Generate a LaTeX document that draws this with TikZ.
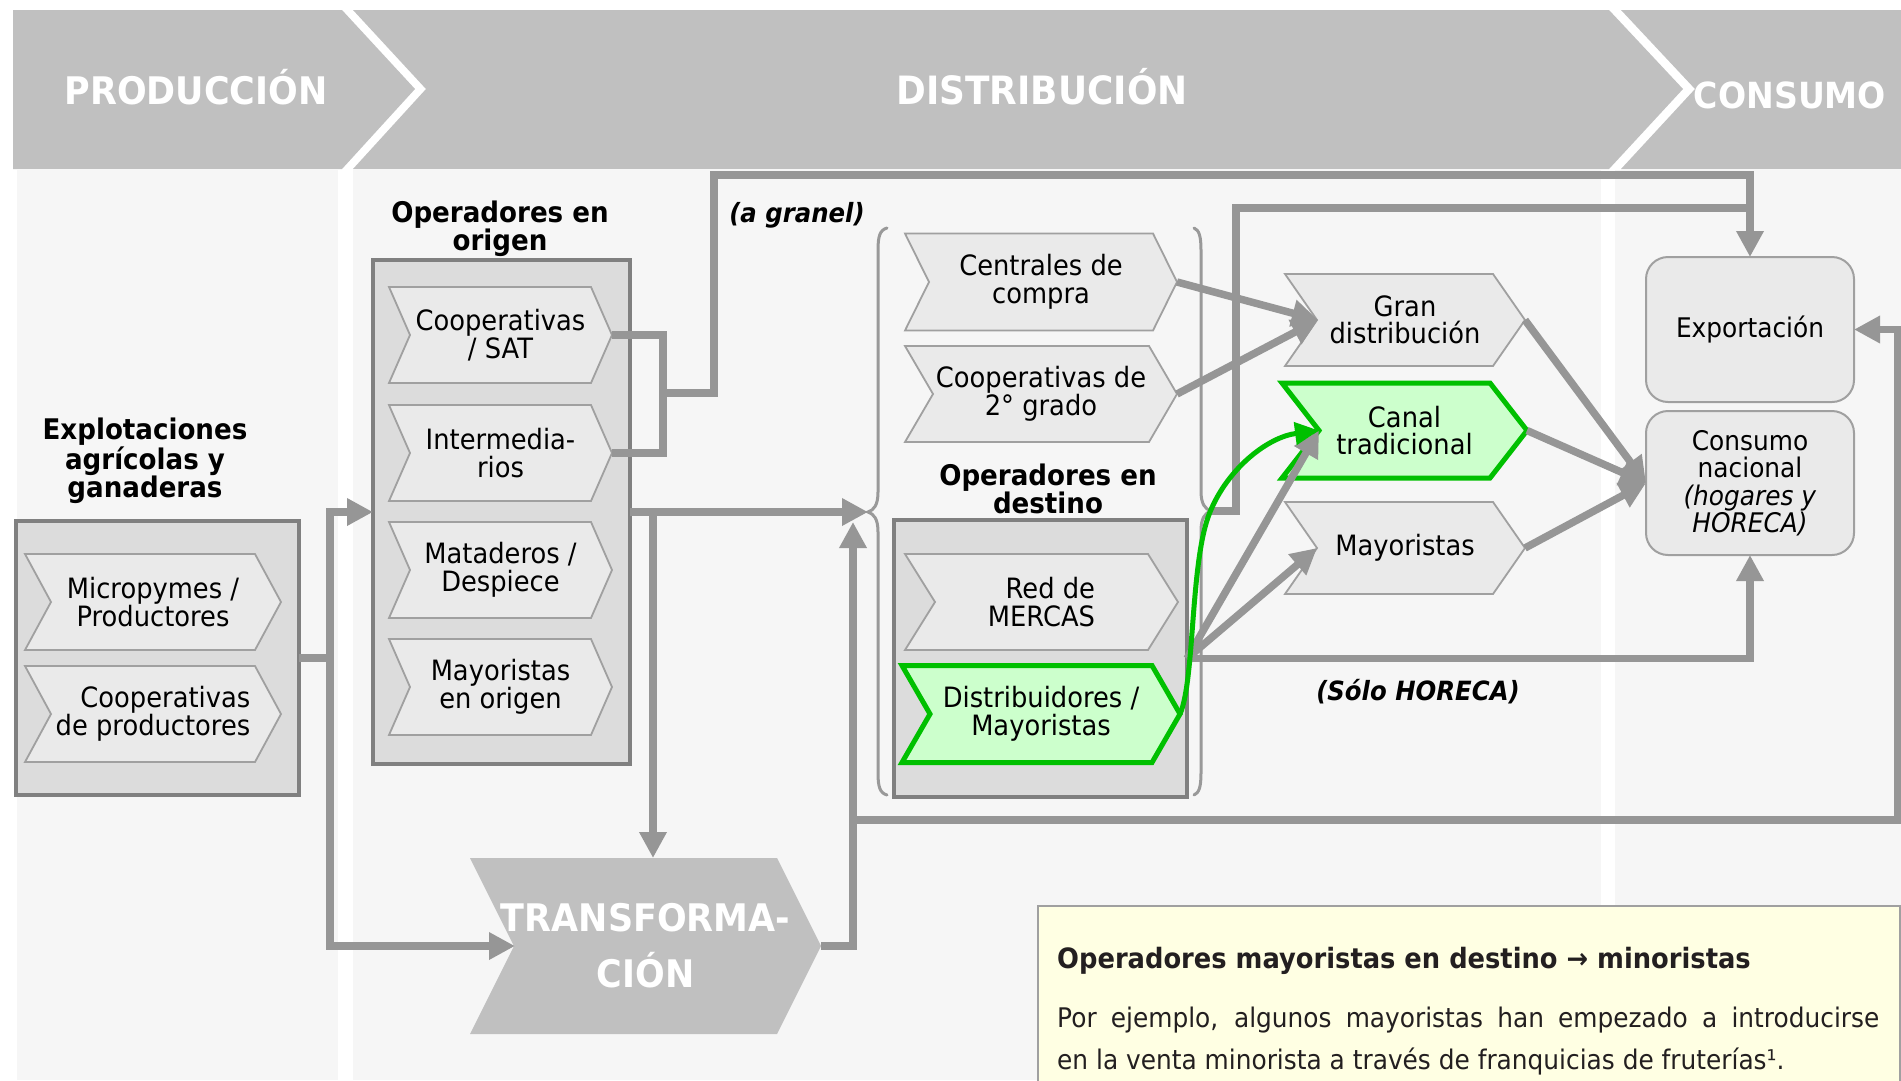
\documentclass[tikz,border=0pt]{standalone}
\usepackage{fontspec}
\setmainfont{DejaVu Sans}[FakeStretch=0.92]
\usetikzlibrary{arrows.meta}
\pgfdeclarelayer{back}
\pgfdeclarelayer{boxes}
\pgfdeclarelayer{chev}
\pgfsetlayers{back,boxes,chev,main}
\definecolor{cHdr}{HTML}{C0C0C0}
\definecolor{cCol}{HTML}{F6F6F6}
\definecolor{cBox}{HTML}{DCDCDC}
\definecolor{cBoxLine}{HTML}{808080}
\definecolor{cChev}{HTML}{EAEAEA}
\definecolor{cChevLine}{HTML}{A0A0A0}
\definecolor{cConn}{HTML}{969696}
\definecolor{cBrace}{HTML}{999999}
\definecolor{cGrn}{HTML}{00C000}
\definecolor{cGrnFill}{HTML}{CCFFCC}
\definecolor{cNote}{HTML}{FFFFE3}
\definecolor{cNoteText}{HTML}{231F20}
\tikzset{
 chevtext/.style={inner sep=0pt, outer sep=0pt, align=center, font=\fontsize{28}{27.5}\selectfont, text=black},
 chevgray/.style={fill=cChev, draw=cChevLine, line width=1.8pt, line join=miter},
 chevgreen/.style={fill=cGrnFill, draw=cGrn, line width=5pt, line join=miter},
 chevtrans/.style={fill=cHdr},
 bigbox/.style={fill=cBox, draw=cBoxLine, line width=4pt, inner sep=0pt, outer sep=0pt},
 roundbox/.style={fill=cChev, draw=cChevLine, line width=2pt, rounded corners=22pt, inner sep=0pt, outer sep=0pt, align=center, font=\fontsize{27}{27.5}\selectfont},
 connline/.style={draw=cConn, line width=7.5pt, line join=miter},
 hdrtext/.style={text=white, font=\fontsize{38}{40}\bfseries},
 heading/.style={align=center, font=\fontsize{28.4}{28.5}\bfseries},
 remark/.style={font=\fontsize{26.5}{28}\bfseries\itshape},
 bracepath/.style={draw=cBrace, line width=3pt, line cap=round},
}
% #1 node opts, #2 path style, #3 name, #4 xl, #5 xr, #6 yc, #7 h, #8 tip, #9 text
\newcommand\chev[9][]{%
 \node[chevtext,#1, minimum width={#5-#4}, minimum height=#7] (#3) at ({(#4+#5)/2},#6) {#9};
 \begin{pgfonlayer}{chev}
 \path[#2] (#3.north west) -- ([xshift=-#8pt]#3.north east) -- (#3.east) -- ([xshift=-#8pt]#3.south east) -- (#3.south west) -- ([xshift=#8pt]#3.west) -- cycle;
 \end{pgfonlayer}}
\begin{document}
\begin{tikzpicture}[x=1pt,y=-1pt,>={Triangle[length=26pt,width=26pt]}]
\useasboundingbox (0,0) rectangle (1901,1080);
\begin{pgfonlayer}{back}
\fill[white] (0,0) rectangle (1901,1080);
\fill[cCol] (17,170) rectangle (338,1080);
\fill[cCol] (353,170) rectangle (1601,1080);
\fill[cCol] (1615,170) rectangle (1901,1080);
\fill[cHdr] (13,10) -- (342,10) -- (415,89) -- (342,169) -- (13,169) -- cycle;
\fill[cHdr] (353,10) -- (1609,10) -- (1683,89) -- (1609,169) -- (353,169) -- (426,89) -- cycle;
\fill[cHdr] (1621,10) -- (1901,10) -- (1901,169) -- (1621,169) -- (1695,89) -- cycle;
\end{pgfonlayer}
% header texts
\node[hdrtext] (hprod) at (196,87) {PRODUCCIÓN};
\node[hdrtext, font=\fontsize{39}{40}\bfseries] (hdist) at (1042,87) {DISTRIBUCIÓN};
\node[hdrtext, font=\fontsize{36}{38}\bfseries] (hcons) at (1790,95) {CONSUMO};
% headings
\node[heading] (hexpl) at (145,461) {Explotaciones\\agrícolas y\\ganaderas};
\node[heading] (horig) at (500,229) {Operadores en\\origen};
\node[heading] (hdest) at (1048,489) {Operadores en\\destino};
\node[remark] (granel) at (797,215) {(a granel)};
\node[remark] (horeca) at (1418,692) {(Sólo HORECA)};
% big boxes
\begin{pgfonlayer}{boxes}
\node[bigbox, minimum width=283, minimum height=274] (box1) at (157.5,658) {};
\node[bigbox, minimum width=257, minimum height=504] (box2) at (501.5,512) {};
\node[bigbox, minimum width=293, minimum height=277] (box3) at (1040.5,658.5) {};
\end{pgfonlayer}
% chevrons
\chev{chevgray}{micro}{25}{281}{602}{96}{26}{Micropymes /\\Productores}
\chev[align=right]{chevgray}{coopprod}{25}{281}{714}{96}{26}{Cooperativas\\de productores}
\chev{chevgray}{coopsat}{389}{612}{335}{96}{21}{Cooperativas\\/ SAT}
\chev{chevgray}{inter}{389}{612}{453}{96}{21}{Intermedia-\\rios}
\chev{chevgray}{matad}{389}{612}{570}{96}{21}{Mataderos /\\Despiece}
\chev{chevgray}{mayorig}{389}{612}{687}{96}{21}{Mayoristas\\en origen}
\chev{chevgray}{centr}{905}{1177}{282}{97}{24}{Centrales de\\compra}
\chev{chevgray}{coop2}{905}{1177}{394}{96}{28}{Cooperativas de\\2° grado}
\chev[align=right]{chevgray}{red}{905}{1178}{602}{96}{30}{Red de\\MERCAS}
\chev{chevgreen}{dist}{902}{1180}{714}{97}{28}{Distribuidores /\\Mayoristas}
\chev{chevgray}{gran}{1285}{1525}{320}{92}{32}{Gran\\distribución}
\chev{chevgreen}{canal}{1282}{1527}{430.5}{95}{37}{Canal\\tradicional}
\chev{chevgray}{may}{1285}{1525}{548}{92}{32}{Mayoristas}
\chev[text=white, font=\fontsize{38}{56}\bfseries]{chevtrans}{trans}{470}{821}{946}{176}{44}{TRANSFORMA-\\CIÓN}
% consumo boxes
\node[roundbox, minimum width=208, minimum height=145] (exp) at (1750,329.5) {Exportación};
\node[roundbox, minimum width=208, minimum height=144] (cons) at (1750,483) {Consumo\\nacional\\\textit{(hogares y}\\\textit{HORECA)}};
% braces
\draw[bracepath] (887,228) .. controls (880,230) and (878,236) .. (878,250) -- (878,492) .. controls (878,505) and (874,510) .. (868,512) .. controls (874,514) and (878,519) .. (878,532) -- (878,773) .. controls (878,787) and (880,793) .. (887,795);
\draw[bracepath] (1194,228) .. controls (1199,230) and (1201,236) .. (1201,250) -- (1201,491) .. controls (1201,504) and (1205,509) .. (1211,511) .. controls (1205,513) and (1201,518) .. (1201,531) -- (1201,773) .. controls (1201,787) and (1199,793) .. (1194,795);
\coordinate (lbtip) at (868,512);
\coordinate (rbtip) at (1211,511);
% connectors
\coordinate (bus) at (330,512);
\draw[connline] (box1.east) -- (box1.east -| bus);
\draw[connline,<->] ([xshift=45pt]trans.west) -- (bus |- trans.west) -- (bus) -- (box2.west);
\coordinate (split2) at (653,512);
\draw[connline,->] (box2.east) -- (lbtip);
\draw[connline,->] (split2) -- (split2 |- trans.north);
\coordinate (uptip) at (853,522);
\draw[connline,->] (trans.east) -- (trans.east -| uptip) -- (uptip);
\coordinate (loopL) at (853,820);
\coordinate (loopR) at (1898,820);
\draw[connline,->] (loopL) -- (loopR) -- (loopR |- exp.east) -- (exp.east);
\coordinate (j1) at (663,393);
\coordinate (j2) at (714,393);
\coordinate (top1) at (714,175);
\draw[connline] (coopsat.east) -- (coopsat.east -| j1) -- (inter.east -| j1) -- (inter.east);
\draw[connline,->] (j1) -- (j2) -- (top1) -- (top1 -| exp.north) -- (exp.north);
\coordinate (j3) at (1236,511);
\coordinate (top2) at (1236,208);
\draw[connline] (rbtip) -- (j3) -- (top2) -- (top2 -| exp.north);
\draw[connline,->] (centr.east) -- ([xshift=33pt]gran.west);
\draw[connline,->] (coop2.east) -- ([xshift=33pt]gran.west);
\draw[connline,->] (box3.east) -- ([xshift=37pt]canal.west);
\draw[connline,->] (box3.east) -- ([xshift=32pt]may.west);
\draw[connline,->] (box3.east) -- (box3.east -| cons.south) -- (cons.south);
\draw[connline,->] (gran.east) -- (cons.west);
\draw[connline,->] (canal.east) -- (cons.west);
\draw[connline,->] (may.east) -- (cons.west);
\draw[draw=cGrn, line width=5pt, -{Triangle[length=24pt,width=22pt]}] (dist.east) .. controls (1195,680) and (1190,560) .. (1210,512) .. controls (1228,468) and (1268,437) .. ([xshift=37pt]canal.west);
% note
\node[draw=cChevLine, line width=2pt, fill=cNote, minimum width=862, minimum height=190, anchor=north west, inner sep=0pt] (notebox) at (1037,905) {};
\node[anchor=base west, inner sep=0pt, text=cNoteText, font=\fontsize{28}{30}\bfseries] (notetitle) at (1057,968) {Operadores mayoristas en destino → minoristas};
\node[anchor=north west, inner sep=0pt, text=cNoteText, text width=822pt, align=justify, font=\fontsize{27}{42}\selectfont] (notebody) at (1057,1007) {Por ejemplo, algunos mayoristas han empezado a introducirse\linebreak en la venta minorista a través de franquicias de fruterías¹.};
\end{tikzpicture}
\end{document}
